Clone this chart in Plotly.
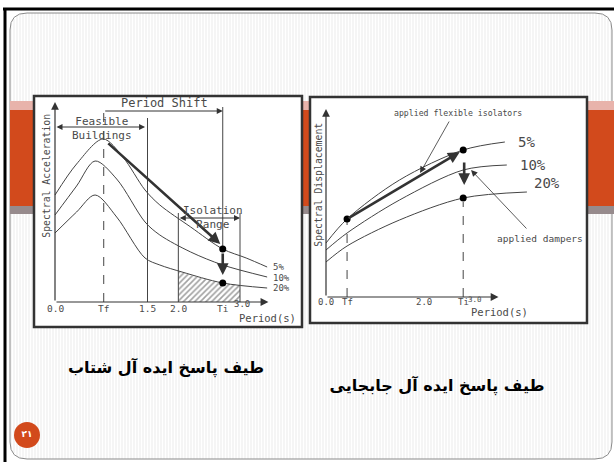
import math
import plotly.graph_objects as go

W, H = 614, 462

# ---------------- data ----------------
# Left diagram: spectral acceleration vs period (5%, 10%, 20% damping)
acc_period_5 = [0.0, 0.35, 0.78, 1.1, 1.46, 1.7, 2.2, 2.72, 3.1, 3.44]
acc_5 = [1.07, 1.38, 1.63, 1.45, 1.12, 0.97, 0.75, 0.53, 0.44, 0.35]
acc_period_10 = [0.0, 0.35, 0.65, 1.0, 1.46, 1.7, 2.2, 2.72, 3.44]
acc_10 = [0.87, 1.16, 1.41, 1.23, 0.80, 0.67, 0.50, 0.37, 0.25]
acc_period_20 = [0.0, 0.35, 0.65, 1.0, 1.46, 1.7, 2.06, 2.72, 3.44]
acc_20 = [0.69, 0.90, 1.07, 0.85, 0.44, 0.37, 0.30, 0.19, 0.14]
hatch_period = [2.0, 2.3, 2.72, 3.0]
hatch_acc = [0.31, 0.25, 0.19, 0.17]
acc_tf, acc_ti = 0.79, 2.72
acc_tick_vals = [0.0, acc_tf, 1.5, 2.0, acc_ti]
acc_tick_text = ["0.0", "Tf", "1.5", "2.0", "Ti"]
acc_dot_period = [acc_ti, acc_ti]
acc_dot_vals = [0.53, 0.19]
acc_labels = ["5%", "10%", "20%"]
acc_label_vals = [0.35, 0.245, 0.14]

# Right diagram: spectral displacement vs period
disp_period_5 = [0.0, 0.43, 1.5, 2.8, 3.65]
disp_5 = [0.54, 0.78, 1.17, 1.47, 1.55]
disp_period_10 = [0.0, 0.43, 1.5, 2.8, 3.69]
disp_10 = [0.47, 0.64, 0.97, 1.27, 1.32]
disp_period_20 = [0.0, 0.43, 1.5, 2.8, 4.1]
disp_20 = [0.35, 0.51, 0.77, 0.99, 1.05]
disp_tf, disp_ti = 0.43, 2.8
disp_tick_vals = [0.0, disp_tf, 2.0, disp_ti]
disp_tick_text = ["0.0", "Tf", "2.0", "Ti"]
disp_dot_period = [disp_tf, disp_ti, disp_ti]
disp_dot_vals = [0.78, 1.47, 0.99]
disp_labels = ["5%", "10%", "20%"]
disp_label_period = [3.88, 3.92, 4.2]
disp_label_vals = [1.55, 1.32, 1.14]

title_left = "طیف پاسخ ایده آل شتاب"
title_right = "طیف پاسخ ایده آل جابجایی"
page_no = "۲۱"

# ---------------- helpers ----------------
def PX(x):
    return x / W

def PY(y):
    return 1 - y / H

def P(x, y):
    return f"{PX(x):.5f},{PY(y):.5f}"

FONT = "DejaVu Sans Mono"
TFONT = "DejaVu Sans"
INK = "#4a4a4a"
ORANGE = "#d24a1c"

fig = go.Figure()
shapes = []
ann = []

# stripes background inside rounded rect
R = 17
L, T, RR, B = 10, 13, 612, 459
segs = []
x = L + 1
while x < RR:
    top, bot = T, B
    if x < L + R:
        d = L + R - x
        off = R - math.sqrt(max(R * R - d * d, 0))
        top, bot = T + off, B - off
    elif x > RR - R:
        d = x - (RR - R)
        off = R - math.sqrt(max(R * R - d * d, 0))
        top, bot = T + off, B - off
    segs.append(f"M{P(x, top)} L{P(x, bot)}")
    x += 3
shapes.append(dict(type="path", xref="paper", yref="paper", layer="below",
                   path=" ".join(segs), line=dict(color="#ebebeb", width=1)))
rp = (f"M{P(L+R, T)} L{P(RR-R, T)} Q{P(RR, T)} {P(RR, T+R)} L{P(RR, B-R)} "
      f"Q{P(RR, B)} {P(RR-R, B)} L{P(L+R, B)} Q{P(L, B)} {P(L, B-R)} "
      f"L{P(L, T+R)} Q{P(L, T)} {P(L+R, T)} Z")
shapes.append(dict(type="path", xref="paper", yref="paper", layer="below",
                   path=rp, line=dict(color="#8a8a8a", width=1)))

def rect(x0, y0, x1, y1, fill, line=None, lw=0):
    shapes.append(dict(type="rect", xref="paper", yref="paper", layer="below",
                       x0=PX(x0), x1=PX(x1), y0=PY(y1), y1=PY(y0),
                       fillcolor=fill,
                       line=dict(color=line or fill, width=lw)))

rect(10, 101, 614, 110, "#e8b3ab")
rect(10, 110, 614, 206, ORANGE)
rect(10, 206, 614, 214, "#978b8d")
rect(34, 96, 302, 327, "white", "#333333", 2.5)
rect(310, 97, 587, 323, "white", "#333333", 2.5)
shapes.append(dict(type="line", xref="paper", yref="paper", x0=PX(3), x1=PX(614),
                   y0=PY(9), y1=PY(9), line=dict(color="black", width=3)))
shapes.append(dict(type="line", xref="paper", yref="paper", x0=PX(5), x1=PX(5),
                   y0=PY(9), y1=PY(462), line=dict(color="black", width=3)))
shapes.append(dict(type="circle", xref="paper", yref="paper", layer="below",
                   x0=PX(14), x1=PX(40), y0=PY(448), y1=PY(422),
                   fillcolor=ORANGE, line=dict(color=ORANGE, width=0)))

def line(xs, ys, ax, dash=None, width=1, color="#444", spline=False):
    fig.add_trace(go.Scatter(
        x=xs, y=ys, mode="lines", xaxis=ax[0], yaxis=ax[1], hoverinfo="skip",
        line=dict(color=color, width=width, dash=dash,
                  shape="spline" if spline else "linear", smoothing=0.9),
        showlegend=False))

def arrow(xh, yh, xt, yt, ax, width=1, size=1.0, head=2, both=False, color="#333"):
    ann.append(dict(x=xh, y=yh, ax=xt, ay=yt, xref=ax[0], yref=ax[1],
                    axref=ax[0], ayref=ax[1], text="", showarrow=True,
                    arrowhead=head, startarrowhead=head, arrowsize=size,
                    startarrowsize=size,
                    arrowwidth=width, arrowcolor=color, standoff=0, startstandoff=0,
                    arrowside="end+start" if both else "end"))

def text(x, y, s, ax, size=11, anchor="center", angle=0, color=INK, family=FONT):
    ann.append(dict(x=x, y=y, xref=ax[0], yref=ax[1], text=s, showarrow=False,
                    xanchor=anchor, yanchor="middle", textangle=angle,
                    font=dict(family=family, size=size, color=color)))

A1 = ("x", "y")
A2 = ("x2", "y2")

# ---------------- left diagram ----------------
fig.add_trace(go.Scatter(
    x=hatch_period, y=hatch_acc, mode="lines", fill="tozeroy", xaxis="x", yaxis="y",
    line=dict(color="rgba(0,0,0,0)", width=0, shape="spline"),
    fillcolor="white",
    fillpattern=dict(shape="/", size=4, solidity=0.4, fgcolor="#444", bgcolor="white"),
    hoverinfo="skip", showlegend=False))
line(acc_period_5, acc_5, A1, spline=True)
line(acc_period_10, acc_10, A1, spline=True)
line(acc_period_20, acc_20, A1, spline=True)
line([acc_tf, acc_tf], [0, 1.95], A1, dash="dash")
line([1.5, 1.5], [0, 1.84], A1)
line([2.0, 2.0], [0, 0.89], A1)
line([3.0, 3.0], [0, 0.89], A1)
line([acc_ti, acc_ti], [0.53, 1.95], A1)
fig.add_trace(go.Scatter(x=acc_dot_period, y=acc_dot_vals, mode="markers",
                         xaxis="x", yaxis="y", marker=dict(color="black", size=7),
                         hoverinfo="skip", showlegend=False))
arrow(0, 2.0, 0, 0, A1, width=1.2, size=1.3)
arrow(3.46, 0, 0, 0, A1, width=1.2, size=1.3)
arrow(acc_ti, 1.91, acc_tf, 1.91, A1, width=1, size=1.2)
arrow(1.46, 1.75, 0, 1.75, A1, width=1, size=1.2, both=True)
arrow(3.0, 0.84, 2.0, 0.84, A1, width=1, size=1.2, both=True)
arrow(2.68, 0.58, 0.84, 1.60, A1, width=2.6, size=0.9)
arrow(acc_ti, 0.27, acc_ti, 0.50, A1, width=2.6, size=0.9)
for v, s in zip(acc_tick_vals, acc_tick_text):
    text(v, -0.06, s, A1, size=9.5)
text(3.03, -0.02, "3.0", A1, size=9)
text(3.45, -0.155, "Period(s)", A1, size=10.5)
text(-0.15, 1.26, "Spectral Acceleration", A1, size=9.8, angle=-90)
text(1.78, 1.99, "Period Shift", A1, size=12)
text(0.76, 1.74, "Feasible<br>Buildings", A1, size=11)
text(2.56, 0.85, "Isolation<br>Range", A1, size=11)
for s, v in zip(acc_labels, acc_label_vals):
    text(3.5, v, s, A1, size=9, anchor="left")

# ---------------- right diagram ----------------
line(disp_period_5, disp_5, A2, spline=True)
line(disp_period_10, disp_10, A2, spline=True)
line(disp_period_20, disp_20, A2, spline=True)
line([disp_tf, disp_tf], [0, 0.76], A2, dash="dash")
line([disp_ti, disp_ti], [0, 0.95], A2, dash="dash")
fig.add_trace(go.Scatter(x=disp_dot_period, y=disp_dot_vals, mode="markers",
                         xaxis="x2", yaxis="y2", marker=dict(color="black", size=7),
                         hoverinfo="skip", showlegend=False))
arrow(0, 1.88, 0, 0, A2, width=1.2, size=1.3)
arrow(3.52, 0, 0, 0, A2, width=1.2, size=1.3)
arrow(2.73, 1.45, disp_tf, 0.78, A2, width=2.6, size=0.9)
arrow(2.82, 1.12, 2.82, 1.36, A2, width=2.6, size=0.9)
arrow(1.92, 1.24, 2.53, 1.77, A2, width=0.8, size=1.6)
arrow(2.96, 1.27, 4.12, 0.67, A2, width=0.8, size=1.6)
for v, s in zip(disp_tick_vals, disp_tick_text):
    text(v, -0.05, s, A2, size=9)
text(3.05, -0.02, "3.0", A2, size=7.5)
text(3.55, -0.15, "Period(s)", A2, size=10.5)
text(-0.17, 1.12, "Spectral Displacement", A2, size=9.8, angle=-90)
text(2.69, 1.84, "applied flexible isolators", A2, size=8.2)
text(4.37, 0.59, "applied dampers", A2, size=9.5)
for s, xv, v in zip(disp_labels, disp_label_period, disp_label_vals):
    text(xv, v, s, A2, size=14, anchor="left")

# ---------------- Persian titles & page number (text traces on page axes) ----------------
fig.add_trace(go.Scatter(
    x=[166, 437], y=[369, 387], mode="text", xaxis="x3", yaxis="y3",
    text=[f"<b>{title_left}</b>", f"<b>{title_right}</b>"],
    textposition="middle center",
    textfont=dict(family=TFONT, size=16, color="black"),
    hoverinfo="skip", showlegend=False))
fig.add_trace(go.Scatter(
    x=[27], y=[435], mode="text", xaxis="x3", yaxis="y3",
    text=[f"<b>{page_no}</b>"], textposition="middle center",
    textfont=dict(family=TFONT, size=9, color="white"),
    hoverinfo="skip", showlegend=False))

ax_common = dict(visible=False, showgrid=False, zeroline=False, fixedrange=True)
LX0, LSX = 55, 61.67
LY0, LSY = 302, 100
RX0, RSX = 326, 49
RY0, RSY = 297, 100
fig.update_layout(
    width=W, height=H, autosize=False,
    margin=dict(l=0, r=0, t=0, b=0),
    paper_bgcolor="white", plot_bgcolor="rgba(0,0,0,0)",
    showlegend=False,
    xaxis=dict(domain=[PX(40), PX(300)], range=[(40 - LX0) / LSX, (300 - LX0) / LSX],
               anchor="y", **ax_common),
    yaxis=dict(domain=[PY(330), PY(100)], range=[(LY0 - 330) / LSY, (LY0 - 100) / LSY],
               anchor="x", **ax_common),
    xaxis2=dict(domain=[PX(312), PX(586)], range=[(312 - RX0) / RSX, (586 - RX0) / RSX],
                anchor="y2", **ax_common),
    yaxis2=dict(domain=[PY(322), PY(100)], range=[(RY0 - 322) / RSY, (RY0 - 100) / RSY],
                anchor="x2", **ax_common),
    xaxis3=dict(domain=[0, 1], range=[0, W], anchor="y3", **ax_common),
    yaxis3=dict(domain=[0, 1], range=[H, 0], anchor="x3", **ax_common),
    shapes=shapes,
    annotations=ann,
)

fig.write_html("out.html", config={"displayModeBar": False},
               post_script="document.body.style.margin='0';document.body.style.padding='0';")
